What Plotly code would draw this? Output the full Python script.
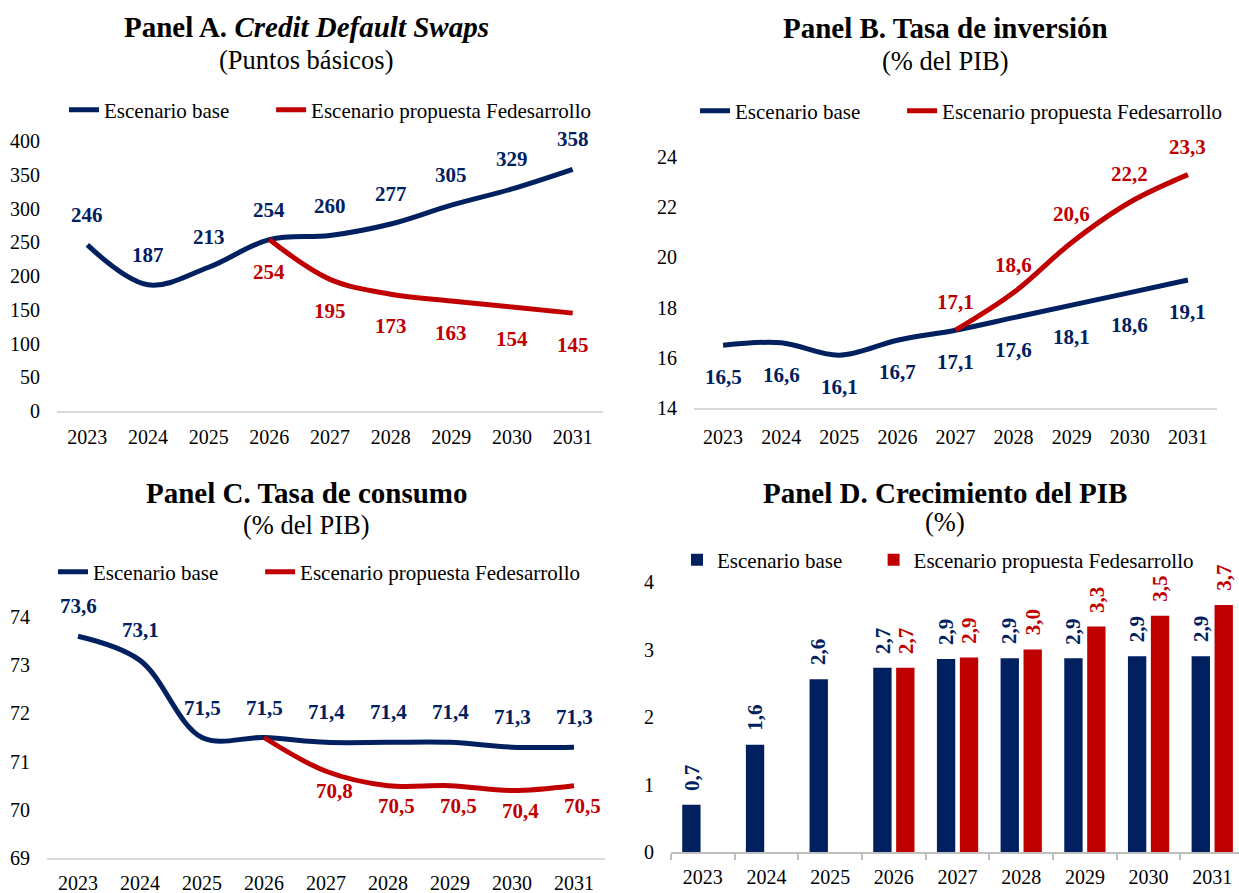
import plotly.graph_objects as go

# ---------------- data ----------------
years = ["2023", "2024", "2025", "2026", "2027", "2028", "2029", "2030", "2031"]
name_base = "Escenario base"
name_fed = "Escenario propuesta Fedesarrollo"

cds_base = [246, 187, 213, 254, 260, 277, 305, 329, 358]
cds_fed = [None, None, None, 254, 195, 173, 163, 154, 145]

inv_base = [16.5, 16.6, 16.1, 16.7, 17.1, 17.6, 18.1, 18.6, 19.1]
inv_fed = [None, None, None, None, 17.1, 18.6, 20.6, 22.2, 23.3]

cons_base = [73.6, 73.1, 71.5, 71.5, 71.4, 71.4, 71.4, 71.3, 71.3]
cons_fed = [None, None, None, 71.5, 70.8, 70.5, 70.5, 70.4, 70.5]

gdp_base = [0.70, 1.59, 2.56, 2.73, 2.86, 2.87, 2.87, 2.90, 2.90]
gdp_fed = [None, None, None, 2.73, 2.88, 3.00, 3.34, 3.50, 3.66]

# ---------------- style ----------------
NAVY = "#002060"
RED = "#C00000"
FONT = "Liberation Serif, Times New Roman, serif"
W, H = 1239, 893
NB = "\u00a0"


def px_x(p):
    return p / W


def px_y(p):
    return 1 - p / H


def fmt_int(v):
    return f"{v:.0f}"


def fmt_dec(v):
    return f"{v:.1f}".replace(".", ",")


fig = go.Figure()

line_base_name = name_base + NB * 7
bar_base_name = name_base + NB * 5


def add_lines(base, fed, xa, ya, leg):
    fig.add_trace(go.Scatter(x=years, y=base, name=line_base_name, mode="lines",
                             line=dict(color=NAVY, width=5, shape="spline", smoothing=1),
                             xaxis=xa, yaxis=ya, legend=leg, cliponaxis=False))
    fig.add_trace(go.Scatter(x=years, y=fed, name=name_fed, mode="lines",
                             line=dict(color=RED, width=5, shape="spline", smoothing=1),
                             xaxis=xa, yaxis=ya, legend=leg, cliponaxis=False))


add_lines(cds_base, cds_fed, "x", "y", "legend")
add_lines(inv_base, inv_fed, "x2", "y2", "legend2")
add_lines(cons_base, cons_fed, "x3", "y3", "legend3")

fig.add_trace(go.Bar(x=years, y=gdp_base, name=bar_base_name, marker=dict(color=NAVY, line=dict(width=0)),
                     xaxis="x4", yaxis="y4", legend="legend4", cliponaxis=False))
fig.add_trace(go.Bar(x=years, y=gdp_fed, name=name_fed, marker=dict(color=RED, line=dict(width=0)),
                     xaxis="x4", yaxis="y4", legend="legend4", cliponaxis=False))

annotations = []


def add_labels(xref, yref, values, color, fmt, yshift, xshift=0, skip_first=False):
    # category position = index of the year in the categories list
    first = True
    for i, v in enumerate(values):
        if v is None:
            continue
        if first and skip_first:
            first = False
            continue
        first = False
        annotations.append(dict(x=i, y=v, xref=xref, yref=yref, text=f"<b>{fmt(v)}</b>",
                                showarrow=False, yshift=yshift, xshift=xshift,
                                font=dict(family=FONT, size=21, color=color)))


add_labels("x", "y", cds_base, NAVY, fmt_int, 30)
add_labels("x", "y", cds_fed, RED, fmt_int, -32)
add_labels("x2", "y2", inv_base, NAVY, fmt_dec, -32)
add_labels("x2", "y2", inv_fed, RED, fmt_dec, 28)
add_labels("x3", "y3", cons_base, NAVY, fmt_dec, 30)
add_labels("x3", "y3", cons_fed, RED, fmt_dec, -20, 8, skip_first=True)


def add_bar_labels(values, color, xshift):
    for i, v in enumerate(values):
        if v is None:
            continue
        annotations.append(dict(x=i, y=v, xref="x4", yref="y4", text=f"<b>{fmt_dec(v)}</b>",
                                showarrow=False, textangle=-90, yanchor="bottom",
                                yshift=12, xshift=xshift,
                                font=dict(family=FONT, size=21, color=color)))


add_bar_labels(gdp_base, NAVY, -11.5)
add_bar_labels(gdp_fed, RED, 11.5)

# titles
titles = [
    ("<b>Panel A. <i>Credit Default Swaps</i></b>", "(Puntos básicos)", 306, 27, 60),
    ("<b>Panel B. Tasa de inversión</b>", "(% del PIB)", 945, 28, 61),
    ("<b>Panel C. Tasa de consumo</b>", "(% del PIB)", 306, 493, 525),
    ("<b>Panel D. Crecimiento del PIB</b>", "(%)", 945, 493, 522),
]
for t, s, cx, ty, sy in titles:
    annotations.append(dict(x=px_x(cx), y=px_y(ty), xref="paper", yref="paper", text=t,
                            showarrow=False, xanchor="center", yanchor="middle",
                            font=dict(family=FONT, size=29, color="black")))
    annotations.append(dict(x=px_x(cx), y=px_y(sy), xref="paper", yref="paper", text=s,
                            showarrow=False, xanchor="center", yanchor="middle",
                            font=dict(family=FONT, size=26.5, color="black")))

tickfont = dict(family=FONT, size=20, color="black")


def xaxis_cfg(domain, anchor, standoff, boundaries=False, rng=(-0.5, 8.5)):
    d = dict(domain=domain, anchor=anchor, type="category", range=list(rng),
             categoryorder="array", categoryarray=years,
             showgrid=False, zeroline=False, showline=True, linewidth=2,
             linecolor="#D9D9D9", tickfont=tickfont, ticklabelstandoff=standoff,
             fixedrange=True, automargin=False)
    if boundaries:
        d.update(ticks="outside", tickson="boundaries", ticklen=6, tickwidth=1.5,
                 tickcolor="#BFBFBF", linecolor="#BFBFBF")
    else:
        d.update(ticks="")
    return d


def yaxis_cfg(domain, anchor, rng, dtick):
    return dict(domain=domain, anchor=anchor, range=list(rng), dtick=dtick, tick0=rng[0],
                showgrid=False, zeroline=False, showline=False, ticks="",
                tickfont=tickfont, ticklabelstandoff=16, fixedrange=True, automargin=False)


def legend_cfg(x, y):
    return dict(x=x, y=y, xanchor="left", yanchor="middle", orientation="h",
                font=dict(family=FONT, size=21, color="black"),
                bgcolor="rgba(0,0,0,0)", tracegroupgap=0)


fig.update_layout(
    width=W, height=H,
    margin=dict(l=0, r=0, t=0, b=0, autoexpand=False),
    paper_bgcolor="white", plot_bgcolor="white",
    font=dict(family=FONT, color="black"),
    barmode="group", bargap=0.28, bargroupgap=0.2,
    xaxis=xaxis_cfg([px_x(57), px_x(603)], "y", 7),
    yaxis=yaxis_cfg([px_y(411), px_y(141)], "x", (0, 400), 50),
    xaxis2=xaxis_cfg([px_x(694), px_x(1217)], "y2", 10),
    yaxis2=yaxis_cfg([px_y(408), px_y(132)], "x2", (14, 25), 2),
    xaxis3=xaxis_cfg([px_x(47), px_x(605)], "y3", 6),
    yaxis3=yaxis_cfg([px_y(858), px_y(617)], "x3", (69, 74), 1),
    xaxis4=xaxis_cfg([px_x(671), 1.0], "y4", 6, boundaries=True, rng=(-0.5, 8.42)),
    yaxis4=yaxis_cfg([px_y(852), px_y(582)], "x4", (0, 4), 1),
    legend=legend_cfg(px_x(64), px_y(110)),
    legend2=legend_cfg(px_x(695), px_y(111)),
    legend3=legend_cfg(px_x(53), px_y(572)),
    legend4=legend_cfg(px_x(677), px_y(560)),
    annotations=annotations,
    showlegend=True,
)

fig.write_html("out.html", config={"displayModeBar": False},
               post_script="document.body.style.margin='0';document.body.style.overflow='hidden';")
